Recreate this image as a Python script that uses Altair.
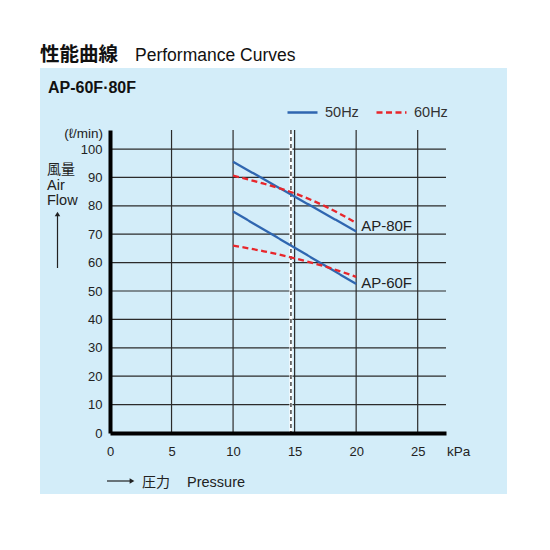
import altair as alt
import pandas as pd

# ---- data ----
pressure_50 = [10, 20]
ap80_50 = [95.5, 71.0]
ap60_50 = [78.0, 52.5]
pressure_60 = [10, 12.5, 15, 17.5, 20]
ap80_60 = [90.6, 87.8, 84.4, 79.8, 74.0]
ap60_60 = [66.0, 64.0, 61.5, 58.6, 55.0]
models = ["AP-80F", "AP-60F"]
label_y = [72.8, 52.9]
rated_pressure = 14.7
x_ticks = [0, 5, 10, 15, 20, 25]
y_ticks = [0, 10, 20, 30, 40, 50, 60, 70, 80, 90, 100]

rows = []
for p, v in zip(pressure_50, ap80_50):
    rows.append({"p": p, "q": v, "freq": "50Hz", "model": "AP-80F"})
for p, v in zip(pressure_50, ap60_50):
    rows.append({"p": p, "q": v, "freq": "50Hz", "model": "AP-60F"})
for p, v in zip(pressure_60, ap80_60):
    rows.append({"p": p, "q": v, "freq": "60Hz", "model": "AP-80F"})
for p, v in zip(pressure_60, ap60_60):
    rows.append({"p": p, "q": v, "freq": "60Hz", "model": "AP-60F"})
df = pd.DataFrame(rows)
lab = pd.DataFrame({"p": [20, 20], "q": label_y, "model": models})
rated = pd.DataFrame({"p": [rated_pressure]})

W, H = 336, 303
FONT = "Liberation Sans"
XMAX, YMAX = 27.3, 106.7

xs = alt.Scale(domain=[0, XMAX], nice=False, zero=False)
ys = alt.Scale(domain=[0, YMAX], nice=False, zero=False)

x_axis = alt.Axis(values=x_ticks, title=None, grid=False, ticks=False,
                  domainColor="black", domainWidth=4, labelPadding=12,
                  labelFontSize=13, labelColor="#222", labelFont=FONT,
                  labelFlush=False, format="d", zindex=1)
y_axis = alt.Axis(values=y_ticks, title=None, grid=False, ticks=False,
                  domainColor="black", domainWidth=4, labelPadding=8,
                  labelFontSize=13, labelColor="#222", labelFont=FONT,
                  labelFlush=False, format="d", zindex=1)

bg = alt.Chart(rated).mark_rect(color="#d3edf9").encode(
    x=alt.value(-70), x2=alt.value(397), y=alt.value(-62), y2=alt.value(364)
)

grid_x = alt.Chart(pd.DataFrame({"p": x_ticks[1:]})).mark_rule(
    color="#2b2b2b", strokeWidth=1.2
).encode(
    x=alt.X("p:Q", scale=xs, axis=x_axis), y=alt.value(0), y2=alt.value(H)
)
grid_y = alt.Chart(pd.DataFrame({"q": y_ticks[1:]})).mark_rule(
    color="#2b2b2b", strokeWidth=1.2
).encode(
    y=alt.Y("q:Q", scale=ys, axis=y_axis), x=alt.value(0), x2=alt.value(W)
)

rated_white = alt.Chart(rated).mark_rule(color="white", strokeWidth=3).encode(
    x=alt.X("p:Q", scale=xs, axis=x_axis), y=alt.value(0), y2=alt.value(H)
)
rated_dash = alt.Chart(rated).mark_rule(
    color="#555555", strokeWidth=1.6, strokeDash=[4, 3]
).encode(x=alt.X("p:Q", scale=xs, axis=x_axis), y=alt.value(0), y2=alt.value(H))

lines = alt.Chart(df).mark_line(strokeWidth=2.3, interpolate="monotone").encode(
    x=alt.X("p:Q", scale=xs, axis=x_axis),
    y=alt.Y("q:Q", scale=ys, axis=y_axis),
    color=alt.Color(
        "freq:N",
        scale=alt.Scale(domain=["50Hz", "60Hz"], range=["#2f66b0", "#e8262b"]),
        legend=alt.Legend(
            orient="none", legendX=176, legendY=-34, direction="horizontal",
            title=None, symbolType="stroke", symbolSize=900,
            symbolStrokeWidth=2.5, labelFontSize=14.5, labelFont=FONT,
            labelColor="#333", labelOffset=6, columnPadding=12,
        ),
    ),
    strokeDash=alt.StrokeDash(
        "freq:N",
        scale=alt.Scale(domain=["50Hz", "60Hz"], range=[[1, 0], [6, 3.5]]),
        legend=None,
    ),
    detail="model:N",
)

labels = alt.Chart(lab).mark_text(
    align="left", baseline="middle", dx=5, fontSize=15, font=FONT, color="#222"
).encode(x=alt.X("p:Q", scale=xs, axis=x_axis),
         y=alt.Y("q:Q", scale=ys, axis=y_axis), text="model:N")


def txt(t, x, y, size=13, weight="normal", font=FONT, align="left", color="#222"):
    return alt.Chart(pd.DataFrame({"t": [t]})).mark_text(
        align=align, baseline="alphabetic", fontSize=size, fontWeight=weight,
        font=font, color=color,
    ).encode(x=alt.value(x), y=alt.value(y), text="t:N")


texts = [
    txt("性能曲線", -70, -69, size=19.5, weight="bold", font="Noto Sans CJK JP", color="#111"),
    txt("Performance Curves", 25, -69, size=17.5, color="#111"),
    txt("AP-60F·80F", -62, -37, size=16, weight="bold", color="#111"),
    txt("(ℓ/min)", -7, 8, size=13.5, align="right"),
    txt("風量", -63, 44, size=14, font="Noto Sans CJK JP"),
    txt("Air", -63, 60, size=14.5),
    txt("Flow", -63, 75, size=14.5),
    txt("kPa", 337, 326, size=13.5),
    txt("圧力", 32, 357, size=14, font="Noto Sans CJK JP"),
    txt("Pressure", 77, 357, size=14.5),
]

arrow_up = alt.Chart(rated).mark_rule(color="#222", strokeWidth=1.2).encode(
    x=alt.value(-52.5), y=alt.value(86), y2=alt.value(138)
)
arrow_up_head = alt.Chart(rated).mark_point(
    shape="triangle-up", filled=True, color="#222", size=30, opacity=1
).encode(x=alt.value(-52.5), y=alt.value(84))
arrow_right = alt.Chart(rated).mark_rule(color="#222", strokeWidth=1.2).encode(
    x=alt.value(-3), x2=alt.value(20), y=alt.value(351)
)
arrow_right_head = alt.Chart(rated).mark_point(
    shape="triangle-right", filled=True, color="#222", size=30, opacity=1
).encode(x=alt.value(22), y=alt.value(351))

chart = alt.layer(
    bg, grid_x, grid_y, rated_white, rated_dash, lines, labels,
    arrow_up, arrow_up_head, arrow_right, arrow_right_head, *texts,
).properties(
    width=W, height=H,
    autosize=alt.AutoSizeParams(type="none"),
    padding={"left": 102, "top": 122, "right": 96, "bottom": 100},
).configure_view(stroke=None).configure(background="white")

chart.save("out.html", embed_options={"renderer": "svg", "actions": False})
